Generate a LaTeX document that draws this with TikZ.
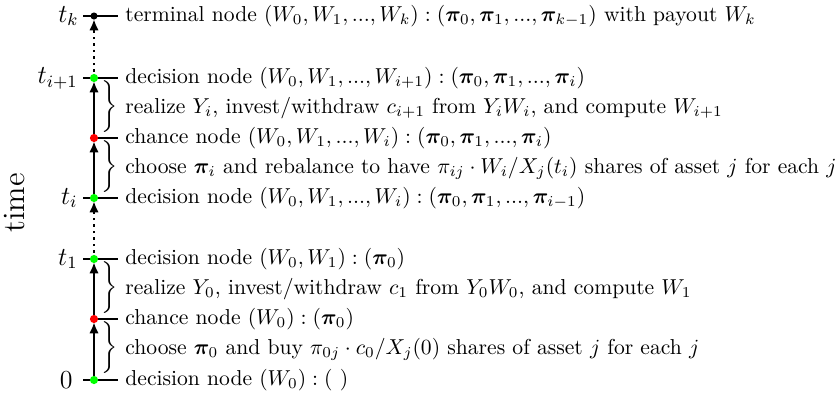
\documentclass[tikz,border=0pt]{standalone}
\usepackage{amsmath,bm}
\usetikzlibrary{arrows.meta}
\begin{document}
\begin{tikzpicture}[x=0.463pt,y=-0.463pt,
  axis/.style={line width=1pt},
  up/.style={axis,-{Latex[length=5.2pt,width=4.4pt]},shorten >=1.5pt},
  updots/.style={up,dotted},
  tick/.style={axis},
  dnode/.style={circle,fill=green,inner sep=0pt,minimum size=3.8pt},
  cnode/.style={circle,fill=red,inner sep=0pt,minimum size=3.8pt},
  tnode/.style={circle,fill=black,inner sep=0pt,minimum size=3.3pt},
  desc/.style={anchor=west,inner sep=0pt},
  tlab/.style={anchor=east,inner sep=0pt,font=\large},
  brc/.style={inner sep=0pt}]
\useasboundingbox (0,0) rectangle (838,392);
\def\ax{94}
\newcommand{\mybrace}{$\left.\rule[-10.8pt]{0pt}{21.6pt}\right\}$}
% coordinates
\coordinate (pk) at (\ax,16);
\coordinate (pi1) at (\ax,78);
\coordinate (pci) at (\ax,138);
\coordinate (pii) at (\ax,198);
\coordinate (p1) at (\ax,259);
\coordinate (pc0) at (\ax,319);
\coordinate (p0) at (\ax,380);
% ticks
\foreach \p in {pk,pi1,pii,p1,p0}{\draw[tick] (\p) ++(-11,0) -- ++(35,0);}
\foreach \p in {pci,pc0}{\draw[tick] (\p) -- ++(24,0);}
% arrows
\draw[updots] (pi1) -- (pk);
\draw[up] (pci) -- (pi1);
\draw[up] (pii) -- (pci);
\draw[updots] (p1) -- (pii);
\draw[up] (pc0) -- (p1);
\draw[up] (p0) -- (pc0);
% dots
\node[tnode] (nk) at (pk) {};
\node[dnode] (ni1) at (pi1) {};
\node[cnode] (nci) at (pci) {};
\node[dnode] (nii) at (pii) {};
\node[dnode] (n1) at (p1) {};
\node[cnode] (nc0) at (pc0) {};
\node[dnode] (n0) at (p0) {};
% braces
\node[brc] (bi) at (108,108) {\mybrace};
\node[brc] (bci) at (108,168) {\mybrace};
\node[brc] (b0) at (108,289) {\mybrace};
\node[brc] (bc0) at (108,349) {\mybrace};
% time labels
\node[tlab] (lk) at (79,16) {$t_k$};
\node[tlab] (li1) at (78,78) {$t_{i+1}$};
\node[tlab] (lii) at (78,198) {$t_i$};
\node[tlab] (l1) at (78,259) {$t_1$};
\node[tlab] (l0) at (73,380) {$0$};
\node[rotate=90,font=\Large] (time) at (15,203) {time};
% descriptions
\node[desc] (dk) at (125,16) {terminal node $(W_0,W_1,...,W_k):(\bm{\pi}_0,\bm{\pi}_1,...,\bm{\pi}_{k-1})$ with payout $W_k$};
\node[desc] (di1) at (125,78) {decision node $(W_0,W_1,...,W_{i+1}):(\bm{\pi}_0,\bm{\pi}_1,...,\bm{\pi}_i)$};
\node[desc] (ri) at (125,108) {realize $Y_i$, invest/withdraw $c_{i+1}$ from $Y_iW_i$, and compute $W_{i+1}$};
\node[desc] (dci) at (125,138) {chance node $(W_0,W_1,...,W_i):(\bm{\pi}_0,\bm{\pi}_1,...,\bm{\pi}_i)$};
\node[desc] (chi) at (125,168) {choose $\bm{\pi}_i$ and rebalance to have $\pi_{ij}\cdot W_i/X_j(t_i)$ shares of asset $j$ for each $j$};
\node[desc] (dii) at (125,198) {decision node $(W_0,W_1,...,W_i):(\bm{\pi}_0,\bm{\pi}_1,...,\bm{\pi}_{i-1})$};
\node[desc] (d1) at (125,259) {decision node $(W_0,W_1):(\bm{\pi}_0)$};
\node[desc] (r0) at (125,289) {realize $Y_0$, invest/withdraw $c_1$ from $Y_0W_0$, and compute $W_1$};
\node[desc] (dc0) at (125,319) {chance node $(W_0):(\bm{\pi}_0)$};
\node[desc] (ch0) at (125,349) {choose $\bm{\pi}_0$ and buy $\pi_{0j}\cdot c_0/X_j(0)$ shares of asset $j$ for each $j$};
\node[desc] (d0) at (125,380) {decision node $(W_0):(\ )$};
\end{tikzpicture}
\end{document}
